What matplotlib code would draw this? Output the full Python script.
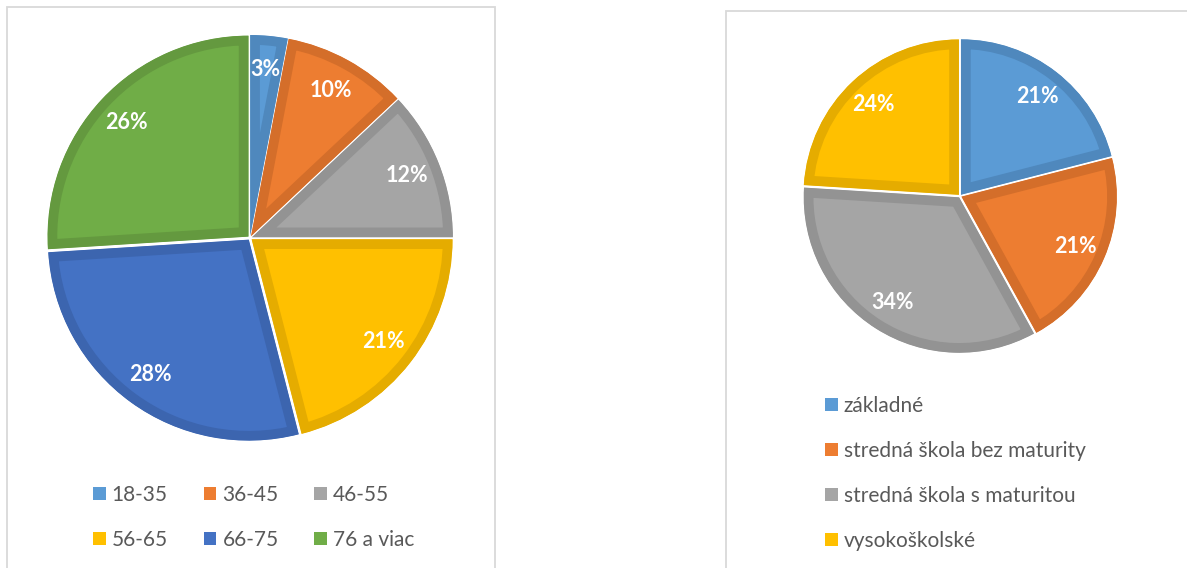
import matplotlib
matplotlib.use("Agg")
import matplotlib.pyplot as plt
from matplotlib.patches import Rectangle

plt.rcParams["font.family"] = ["Lato", "DejaVu Sans"]

# age groups
age_labels = ["18-35", "36-45", "46-55", "56-65", "66-75", "76 a viac"]
age_values = [3, 10, 12, 21, 28, 26]
age_colors = ["#5B9BD5", "#ED7D31", "#A5A5A5", "#FFC000", "#4472C4", "#70AD47"]
age_edges = ["#4F88BD", "#D46E2A", "#939393", "#E5AC00", "#3C65AF", "#64993F"]

# education
edu_labels = ["základné", "stredná škola bez maturity",
              "stredná škola s maturitou", "vysokoškolské"]
edu_values = [21, 21, 34, 24]
edu_colors = ["#5B9BD5", "#ED7D31", "#A5A5A5", "#FFC000"]
edu_edges = ["#4F88BD", "#D46E2A", "#939393", "#E5AC00"]

W, H = 1187, 568
fig = plt.figure(figsize=(W / 100, H / 100), dpi=100)
fig.patch.set_facecolor("white")


def px_box(x0, y0, x1, y1):
    # pixel box (top-left origin) -> figure fraction rect
    return [x0 / W, 1 - y1 / H, (x1 - x0) / W, (y1 - y0) / H]


def draw_pie(cx, cy, r, values, colors, edges, pctdist):
    ax = fig.add_axes(px_box(cx - r, cy - r, cx + r, cy + r))
    wedges, texts, autotexts = ax.pie(
        values,
        colors=colors,
        startangle=90,
        counterclock=False,
        radius=0.99,
        explode=[0.01] * len(values),
        autopct=lambda p: f"{p:.0f}%",
        pctdistance=pctdist,
        textprops=dict(color="white", fontsize=15.5, fontweight="bold"),
        wedgeprops=dict(linewidth=14),
    )
    # darker inner rim: clip the thick edge to the wedge itself
    for w, ec in zip(wedges, edges):
        w.set_edgecolor(ec)
        w.set_clip_on(True)
        w.set_clip_box(None)
        w.set_clip_path(w)
    ax.set_xlim(-1, 1)
    ax.set_ylim(-1, 1)
    ax.axis("off")
    return wedges


# panel frames
for box in [(7, 7, 495, H + 10), (726, 11, W + 10, H + 10)]:
    x0, y0, x1, y1 = box
    fig.add_artist(Rectangle((x0 / W, 1 - y1 / H), (x1 - x0) / W, (y1 - y0) / H,
                             transform=fig.transFigure, fill=False,
                             edgecolor="#D9D9D9", linewidth=1.3))

draw_pie(250, 238, 203, age_values, age_colors, age_edges, 0.83)
draw_pie(960, 196, 157, edu_values, edu_colors, edu_edges, 0.8)

legend_kw = dict(
    frameon=False,
    fontsize=15,
    labelcolor="#595959",
    handlelength=0.6,
    handleheight=0.6,
    handletextpad=0.3,
    borderpad=0,
    borderaxespad=0,
    bbox_transform=fig.transFigure,
    loc="upper left",
)

# legend fills column-wise, so reorder to get row-wise layout
order = [0, 3, 1, 4, 2, 5]
handles1 = [Rectangle((0, 0), 1, 1, facecolor=age_colors[i], edgecolor="none") for i in order]
fig.legend(handles1, [age_labels[i] for i in order], ncol=3, columnspacing=1.72,
           labelspacing=1.2, bbox_to_anchor=(93 / W, 1 - 485 / H), **legend_kw)

handles2 = [Rectangle((0, 0), 1, 1, facecolor=c, edgecolor="none") for c in edu_colors]
fig.legend(handles2, edu_labels, ncol=1, labelspacing=1.2,
           bbox_to_anchor=(825 / W, 1 - 396 / H), **legend_kw)

fig.savefig("out.png", dpi=100)
